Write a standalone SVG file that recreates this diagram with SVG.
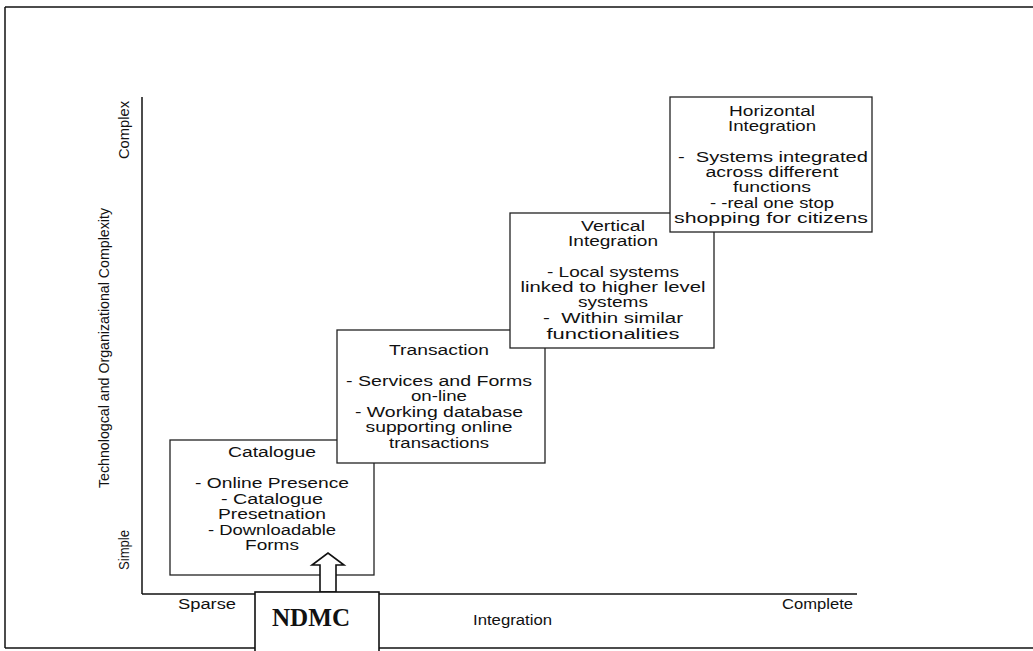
<svg xmlns="http://www.w3.org/2000/svg" width="1033" height="651" viewBox="0 0 1033 651">
<style>
.ln{stroke:#111;stroke-width:1.5;fill:none}
.box{fill:#fff;stroke:#222;stroke-width:1.3}
.t{font-family:"Liberation Sans",Arial,sans-serif;font-size:14px;fill:#111;text-anchor:middle}
.ax{font-family:"Liberation Sans Narrow","Liberation Sans",Arial,sans-serif;font-size:14px;fill:#111;text-anchor:middle}
.al{font-family:"Liberation Sans",Arial,sans-serif;font-size:14px;fill:#111}
</style>
<rect width="1033" height="651" fill="#fff"/>
<g id="frame">
<line x1="5" y1="7" x2="1033" y2="7" class="ln" stroke-width="2"/>
<line x1="5" y1="7" x2="5" y2="648" class="ln" stroke-width="2"/>
<line x1="5" y1="648" x2="1033" y2="648" class="ln" stroke-width="2.5"/>
</g>
<g id="axes">
<line x1="142" y1="97" x2="142" y2="594" class="ln"/>
<line x1="142" y1="594" x2="857" y2="594" class="ln"/>
<text class="ax" transform="translate(129,130) rotate(-90)" textLength="58" lengthAdjust="spacingAndGlyphs">Complex</text>
<text class="ax" transform="translate(109,348) rotate(-90)" textLength="280" lengthAdjust="spacingAndGlyphs">Technologcal and Organizational Complexity</text>
<text class="ax" transform="translate(129,550) rotate(-90)" textLength="40" lengthAdjust="spacingAndGlyphs">Simple</text>
<text class="al" x="178" y="609" textLength="58" lengthAdjust="spacingAndGlyphs">Sparse</text>
<text class="al" x="473" y="625" textLength="79" lengthAdjust="spacingAndGlyphs">Integration</text>
<text class="al" x="782" y="609" textLength="71" lengthAdjust="spacingAndGlyphs">Complete</text>
</g>
<g id="catalogue">
<rect class="box" x="170" y="440" width="204" height="135"/>
<text class="t" x="272" y="457" textLength="88" lengthAdjust="spacingAndGlyphs">Catalogue</text>
<text class="t" x="272" y="488" textLength="154" lengthAdjust="spacingAndGlyphs">- Online Presence</text>
<text class="t" x="272" y="504" textLength="102" lengthAdjust="spacingAndGlyphs">- Catalogue</text>
<text class="t" x="272" y="519" textLength="108" lengthAdjust="spacingAndGlyphs">Presetnation</text>
<text class="t" x="272" y="535" textLength="128" lengthAdjust="spacingAndGlyphs">- Downloadable</text>
<text class="t" x="272" y="550" textLength="54" lengthAdjust="spacingAndGlyphs">Forms</text>
</g>
<g id="transaction">
<rect class="box" x="337" y="330" width="208" height="133"/>
<text class="t" x="439" y="355" textLength="100" lengthAdjust="spacingAndGlyphs">Transaction</text>
<text class="t" x="439" y="386" textLength="186" lengthAdjust="spacingAndGlyphs">- Services and Forms</text>
<text class="t" x="439" y="401" textLength="56" lengthAdjust="spacingAndGlyphs">on-line</text>
<text class="t" x="439" y="417" textLength="168" lengthAdjust="spacingAndGlyphs">- Working database</text>
<text class="t" x="439" y="432" textLength="147" lengthAdjust="spacingAndGlyphs">supporting online</text>
<text class="t" x="439" y="448" textLength="100" lengthAdjust="spacingAndGlyphs">transactions</text>
</g>
<g id="vertical">
<rect class="box" x="510" y="213" width="204" height="135"/>
<text class="t" x="613" y="231" textLength="64" lengthAdjust="spacingAndGlyphs">Vertical</text>
<text class="t" x="613" y="246" textLength="90" lengthAdjust="spacingAndGlyphs">Integration</text>
<text class="t" x="613" y="277" textLength="132" lengthAdjust="spacingAndGlyphs">- Local systems</text>
<text class="t" x="613" y="292" textLength="185" lengthAdjust="spacingAndGlyphs">linked to higher level</text>
<text class="t" x="613" y="307" textLength="70" lengthAdjust="spacingAndGlyphs">systems</text>
<text class="t" x="613" y="323" textLength="140" lengthAdjust="spacingAndGlyphs" xml:space="preserve">-  Within similar</text>
<text class="t" x="613" y="339" textLength="133" lengthAdjust="spacingAndGlyphs">functionalities</text>
</g>
<g id="horizontal">
<rect class="box" x="670" y="97" width="202" height="135" stroke-width="1"/>
<text class="t" x="772" y="116" textLength="86" lengthAdjust="spacingAndGlyphs">Horizontal</text>
<text class="t" x="772" y="131" textLength="88" lengthAdjust="spacingAndGlyphs">Integration</text>
<text class="t" x="773" y="162" textLength="190" lengthAdjust="spacingAndGlyphs" xml:space="preserve">-  Systems integrated</text>
<text class="t" x="772" y="177" textLength="133" lengthAdjust="spacingAndGlyphs">across different</text>
<text class="t" x="772" y="192" textLength="78" lengthAdjust="spacingAndGlyphs">functions</text>
<text class="t" x="772" y="208" textLength="124" lengthAdjust="spacingAndGlyphs">- -real one stop</text>
<text class="t" x="771" y="223" textLength="194" lengthAdjust="spacingAndGlyphs">shopping for citizens</text>
</g>
<g id="connectors">
<polygon points="320,592 320,565 312,565 328,553 344,565 336,565 336,592" fill="#fff" stroke="#111" stroke-width="1.6"/>
</g>
<g id="ndmc">
<rect x="255" y="592" width="124" height="70" fill="#fff" stroke="#111" stroke-width="1.6"/>
<text x="311" y="626" font-family="Liberation Serif,'Times New Roman',serif" font-size="26" font-weight="bold" text-anchor="middle" fill="#111" textLength="78" lengthAdjust="spacingAndGlyphs">NDMC</text>
</g>
</svg>
